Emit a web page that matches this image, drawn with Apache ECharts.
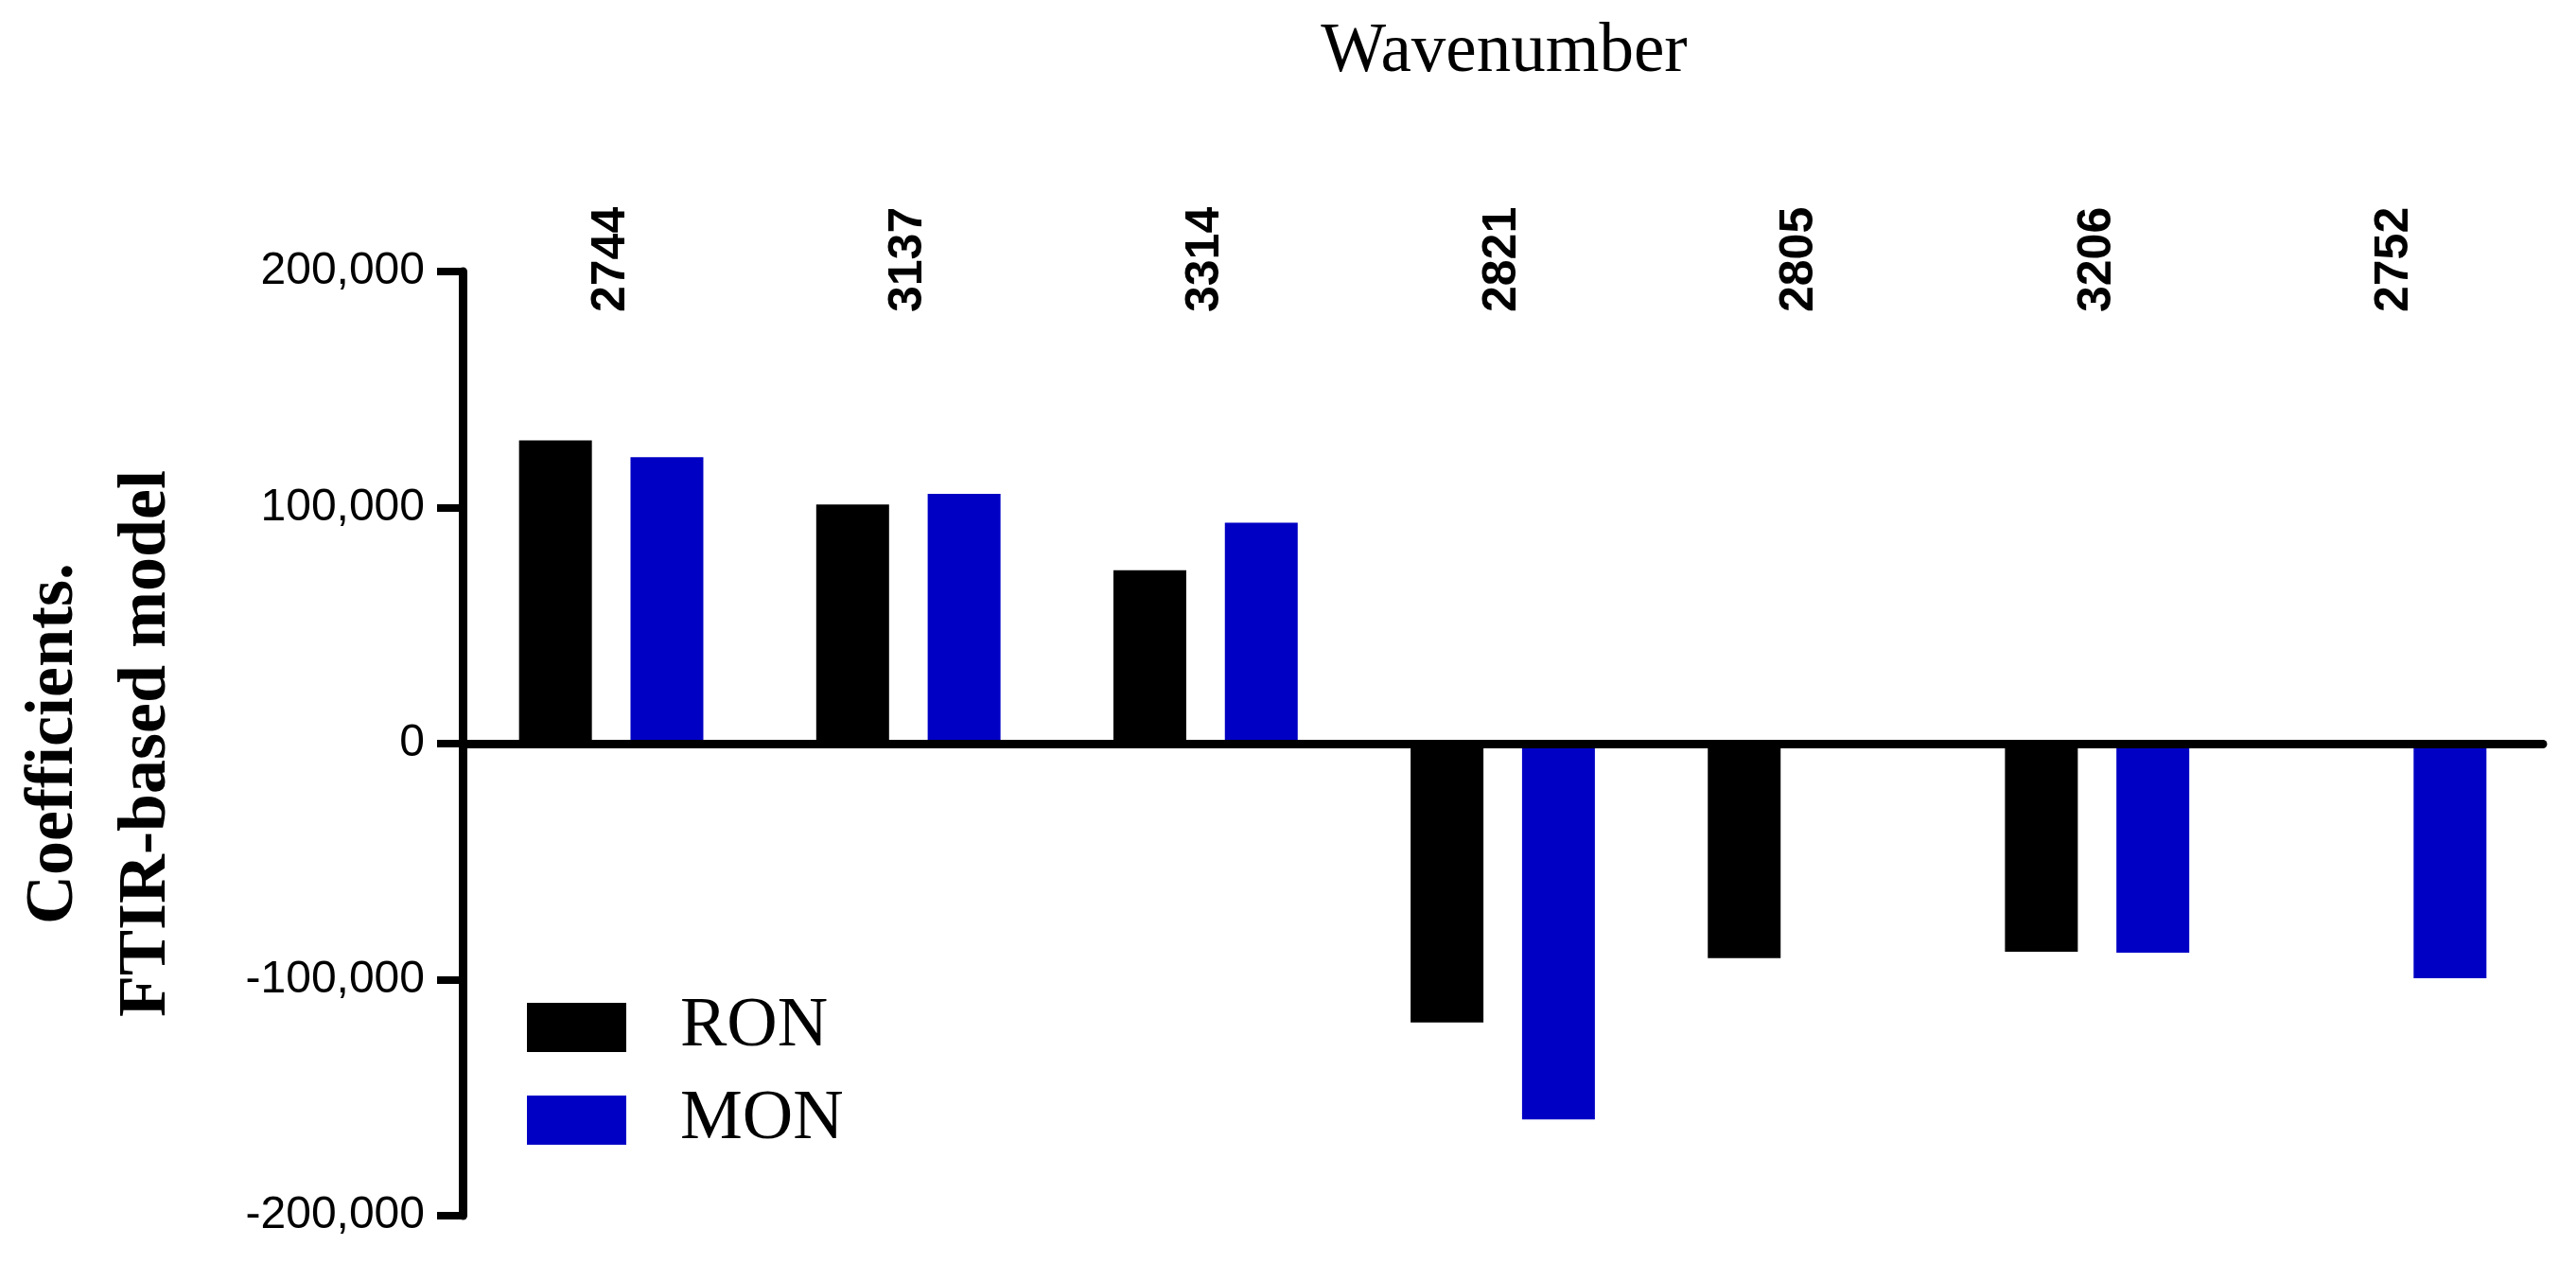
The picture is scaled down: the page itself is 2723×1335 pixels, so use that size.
<!DOCTYPE html>
<html>
<head>
<meta charset="utf-8">
<script src="https://cdn.jsdelivr.net/npm/echarts@6/dist/echarts.min.js"></script>
<style>html,body{margin:0;padding:0;background:#fff;}#chart{width:2723px;height:1335px;}</style>
</head>
<body>
<div id="chart"></div>
<script>
const categories = ['2744', '3137', '3314', '2821', '2805', '3206', '2752'];
const ronValues = [128500, 101300, 73400, -118100, -90900, -88200, null];
const monValues = [121300, 105800, 93600, -159200, null, -88600, -99400];
const yTicks = [-200000, -100000, 0, 100000, 200000];
const titleText = 'Wavenumber';
const yName = 'Coefficients.\nFTIR-based model';

const chart = echarts.init(document.getElementById('chart'));
const fmt = v => (v < 0 ? '-' : '') + Math.abs(v).toLocaleString('en-US');

chart.setOption({
  backgroundColor: '#ffffff',
  animation: false,
  title: {
    text: titleText,
    left: 1585,
    top: 14,
    textAlign: 'center',
    textStyle: { fontFamily: 'Liberation Serif', fontWeight: 'normal', fontSize: 73, color: '#000' }
  },
  legend: {
    orient: 'vertical',
    left: 557,
    top: 1049,
    padding: 0,
    itemWidth: 105,
    itemHeight: 52,
    itemGap: 24,
    icon: 'rect',
    textStyle: { fontFamily: 'Liberation Serif', fontSize: 74, color: '#000', padding: [0, 0, 0, 52] },
    data: ['RON', 'MON']
  },
  grid: { left: 484, top: 287, width: 2204, height: 998, containLabel: false },
  xAxis: [
    {
      type: 'category',
      data: categories,
      position: 'top',
      offset: -51,
      axisLine: { show: false, onZero: false },
      axisTick: { show: false },
      axisLabel: {
        rotate: -90,
        margin: 8,
        fontFamily: 'Liberation Sans',
        fontWeight: 'bold',
        fontSize: 50,
        color: '#000'
      }
    },
    {
      type: 'category',
      data: categories,
      position: 'bottom',
      z: 5,
      axisLine: { show: true, onZero: true, lineStyle: { color: '#000', width: 9 } },
      axisTick: { show: false },
      axisLabel: { show: false }
    }
  ],
  yAxis: {
    type: 'value',
    min: yTicks[0],
    max: yTicks[yTicks.length - 1],
    interval: 100000,
    z: 5,
    axisLine: { show: true, onZero: false, lineStyle: { color: '#000', width: 9 } },
    axisTick: { show: true, length: 27, lineStyle: { color: '#000', width: 8 } },
    splitLine: { show: false },
    axisLabel: {
      margin: 40,
      fontFamily: 'Liberation Sans',
      fontSize: 48,
      color: '#000',
      formatter: fmt
    },
    name: yName,
    nameLocation: 'middle',
    nameGap: 285,
    nameRotate: 90,
    nameTextStyle: {
      fontFamily: 'Liberation Serif',
      fontWeight: 'bold',
      fontSize: 72,
      lineHeight: 98,
      color: '#000',
      align: 'center'
    }
  },
  series: [
    {
      name: 'RON',
      type: 'bar',
      xAxisIndex: 0,
      data: ronValues,
      barWidth: 77,
      barGap: '53%',
      itemStyle: { color: '#000000' }
    },
    {
      name: 'MON',
      type: 'bar',
      xAxisIndex: 0,
      data: monValues,
      barWidth: 77,
      itemStyle: { color: '#0000c4' }
    }
  ]
});
</script>
</body>
</html>
